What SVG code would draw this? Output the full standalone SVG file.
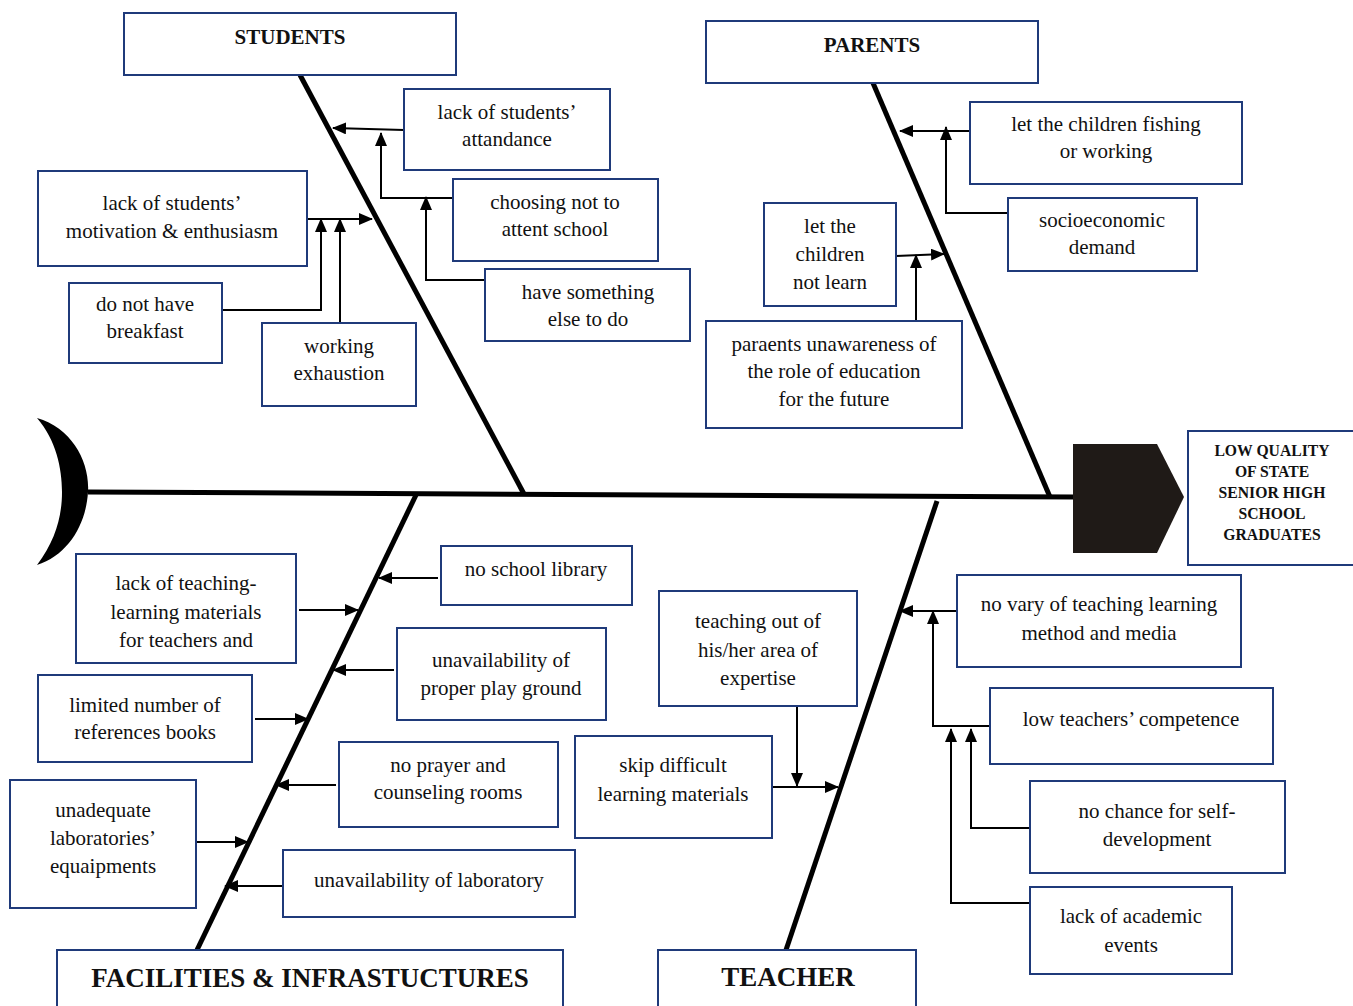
<svg xmlns="http://www.w3.org/2000/svg" width="1353" height="1006" viewBox="0 0 1353 1006">
<style>
.box{fill:#fff;stroke:#1f3a7a;stroke-width:2}
.t{font-family:"Liberation Serif","Times New Roman",serif;font-size:21px;fill:#111;text-anchor:middle}
.tb{font-family:"Liberation Serif","Times New Roman",serif;font-weight:bold;font-size:21px;fill:#111;text-anchor:middle}
.tbig{font-family:"Liberation Serif","Times New Roman",serif;font-weight:bold;font-size:27px;fill:#111;text-anchor:middle}
.th{font-family:"Liberation Serif","Times New Roman",serif;font-weight:bold;font-size:15.7px;fill:#111;text-anchor:middle}
.bone{stroke:#000;stroke-width:5;fill:none}
.c{stroke:#000;stroke-width:2;fill:none;marker-end:url(#ah)}
</style>
<defs>
<marker id="ah" viewBox="0 0 14 12" refX="13" refY="6" markerWidth="14" markerHeight="12" markerUnits="userSpaceOnUse" orient="auto">
<path d="M0,0 L14,6 L0,12 Z" fill="#000"/>
</marker>
</defs>
<rect width="1353" height="1006" fill="#fff"/>

<g id="spine">
<path d="M37,418 C72,428 90,462 88,492 C86,525 68,555 37,565 C56,540 62,515 62,492 C62,468 56,440 37,418 Z" fill="#000"/>
<path class="bone" d="M88,492 L1075,497"/>
<path class="bone" d="M300,75 L524,494"/>
<path class="bone" d="M873,83 L1050,497"/>
<path class="bone" d="M416,495 L197,950"/>
<path class="bone" d="M937,501 L786,950"/>
</g>

<g id="head">
<path d="M1073,444 L1157,444 L1184,497 L1157,553 L1073,553 Z" fill="#1f1a17"/>
</g>

<g id="connectors">
<path class="c" d="M404,130 L333,128"/>
<path class="c" d="M453,198 L381,198 L381,133"/>
<path class="c" d="M485,280 L426,280 L426,197"/>
<path class="c" d="M307,219 L372,219"/>
<path class="c" d="M222,310 L321,310 L321,219"/>
<path class="c" d="M340,323 L340,219"/>
<path class="c" d="M970,131 L900,131"/>
<path class="c" d="M1008,213 L946,213 L946,127"/>
<path class="c" d="M896,256 L944,254"/>
<path class="c" d="M916,321 L916,255"/>
<path class="c" d="M438,578 L379,578"/>
<path class="c" d="M299,610 L358,610"/>
<path class="c" d="M394,670 L333,670"/>
<path class="c" d="M255,719 L308,719"/>
<path class="c" d="M336,785 L276,785"/>
<path class="c" d="M197,842 L248,842"/>
<path class="c" d="M283,886 L225,886"/>
<path class="c" d="M797,706 L797,786"/>
<path class="c" d="M772,787 L838,787"/>
<path class="c" d="M957,611 L900,611"/>
<path class="c" d="M989,726 L933,726 L933,611"/>
<path class="c" d="M1030,828 L971,828 L971,729"/>
<path class="c" d="M1030,903 L951,903 L951,729"/>
</g>

<g id="students"><rect class="box" x="124" y="13" width="332" height="62"/><text class="tb" x="290" y="44">STUDENTS</text></g>
<g id="parents"><rect class="box" x="706" y="21" width="332" height="62"/><text class="tb" x="872" y="52">PARENTS</text></g>
<g id="attandance"><rect class="box" x="404" y="89" width="206" height="81"/><text class="t" x="507" y="119">lack of students’</text><text class="t" x="507" y="146">attandance</text></g>
<g id="choosing"><rect class="box" x="453" y="179" width="205" height="82"/><text class="t" x="555" y="209">choosing not to</text><text class="t" x="555" y="236">attent school</text></g>
<g id="something"><rect class="box" x="485" y="269" width="205" height="72"/><text class="t" x="588" y="299">have something</text><text class="t" x="588" y="326">else to do</text></g>
<g id="motivation"><rect class="box" x="38" y="171" width="269" height="95"/><text class="t" x="172" y="210">lack of students’</text><text class="t" x="172" y="238">motivation &amp;  enthusiasm</text></g>
<g id="breakfast"><rect class="box" x="69" y="283" width="153" height="80"/><text class="t" x="145" y="311">do not have</text><text class="t" x="145" y="338">breakfast</text></g>
<g id="exhaustion"><rect class="box" x="262" y="323" width="154" height="83"/><text class="t" x="339" y="353">working</text><text class="t" x="339" y="380">exhaustion</text></g>
<g id="fishing"><rect class="box" x="970" y="102" width="272" height="82"/><text class="t" x="1106" y="131">let the children fishing</text><text class="t" x="1106" y="158">or working</text></g>
<g id="socio"><rect class="box" x="1008" y="198" width="189" height="73"/><text class="t" x="1102" y="227">socioeconomic</text><text class="t" x="1102" y="254">demand</text></g>
<g id="notlearn"><rect class="box" x="764" y="203" width="132" height="103"/><text class="t" x="830" y="233">let the</text><text class="t" x="830" y="261">children</text><text class="t" x="830" y="289">not learn</text></g>
<g id="unawareness"><rect class="box" x="706" y="321" width="256" height="107"/><text class="t" x="834" y="351">paraents unawareness of</text><text class="t" x="834" y="378">the role of education</text><text class="t" x="834" y="406">for the future</text></g>
<g id="effect"><rect class="box" x="1188" y="431" width="170" height="134"/><text class="th" x="1272" y="456">LOW QUALITY</text><text class="th" x="1272" y="477">OF STATE</text><text class="th" x="1272" y="498">SENIOR HIGH</text><text class="th" x="1272" y="519">SCHOOL</text><text class="th" x="1272" y="540">GRADUATES</text></g>
<g id="library"><rect class="box" x="441" y="546" width="191" height="59"/><text class="t" x="536" y="576">no school library</text></g>
<g id="materials"><rect class="box" x="76" y="554" width="220" height="109"/><text class="t" x="186" y="590">lack of teaching-</text><text class="t" x="186" y="619">learning materials</text><text class="t" x="186" y="647">for teachers and</text></g>
<g id="playground"><rect class="box" x="397" y="628" width="209" height="92"/><text class="t" x="501" y="667">unavailability of</text><text class="t" x="501" y="695">proper play ground</text></g>
<g id="books"><rect class="box" x="38" y="675" width="214" height="87"/><text class="t" x="145" y="712">limited number of</text><text class="t" x="145" y="739">references books</text></g>
<g id="prayer"><rect class="box" x="339" y="742" width="219" height="85"/><text class="t" x="448" y="772">no prayer and</text><text class="t" x="448" y="799">counseling rooms</text></g>
<g id="labequip"><rect class="box" x="10" y="780" width="186" height="128"/><text class="t" x="103" y="817">unadequate</text><text class="t" x="103" y="845">laboratories’</text><text class="t" x="103" y="873">equaipments</text></g>
<g id="laboratory"><rect class="box" x="283" y="850" width="292" height="67"/><text class="t" x="429" y="887">unavailability of laboratory</text></g>
<g id="facilities"><rect class="box" x="57" y="950" width="506" height="60"/><text class="tbig" x="310" y="987">FACILITIES &amp; INFRASTUCTURES</text></g>
<g id="expertise"><rect class="box" x="659" y="591" width="198" height="115"/><text class="t" x="758" y="628">teaching out of</text><text class="t" x="758" y="657">his/her area of</text><text class="t" x="758" y="685">expertise</text></g>
<g id="skip"><rect class="box" x="575" y="736" width="197" height="102"/><text class="t" x="673" y="772">skip difficult</text><text class="t" x="673" y="801">learning materials</text></g>
<g id="teacher"><rect class="box" x="658" y="950" width="258" height="60"/><text class="tbig" x="788" y="986">TEACHER</text></g>
<g id="novary"><rect class="box" x="957" y="575" width="284" height="92"/><text class="t" x="1099" y="611">no vary of teaching learning</text><text class="t" x="1099" y="640">method and media</text></g>
<g id="competence"><rect class="box" x="990" y="688" width="283" height="76"/><text class="t" x="1131" y="726">low teachers’ competence</text></g>
<g id="selfdev"><rect class="box" x="1030" y="781" width="255" height="92"/><text class="t" x="1157" y="818">no chance for self-</text><text class="t" x="1157" y="846">development</text></g>
<g id="academic"><rect class="box" x="1030" y="887" width="202" height="87"/><text class="t" x="1131" y="923">lack of academic</text><text class="t" x="1131" y="952">events</text></g>
</svg>
